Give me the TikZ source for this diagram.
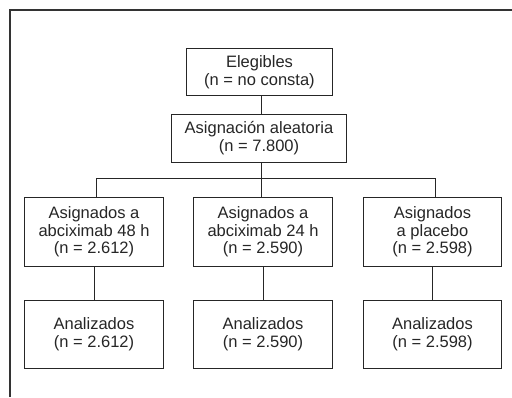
\documentclass[tikz,border=0pt]{standalone}
\usepackage{fontspec}
\setmainfont{Liberation Sans}
\begin{document}
\begin{tikzpicture}[x=1pt,y=-1pt,
  box/.style={draw=black!85, line width=0.8pt, align=center, inner sep=0pt,
    font=\fontsize{16.5}{17.8}\selectfont, text=black!85},
  link/.style={draw=black!85, line width=0.8pt}]
\useasboundingbox (0,0) rectangle (512,397);
\fill[white] (0,0) rectangle (512,397);
% frame (top and left edges visible)
\draw[black!80, line width=1.1pt] (10,397) -- (10,10) -- (512,10);
% nodes
\node[box, minimum width=145.6pt, minimum height=47.4pt] (e) at (259.5,72) {Elegibles\\(n = no consta)};
\node[box, minimum width=174.3pt, minimum height=48pt] (a) at (259,138.3) {Asignación aleatoria\\(n = 7.800)};
\node[box, minimum width=138.6pt, minimum height=68.3pt] (b1) at (94,231.8) {Asignados a\\abciximab 48 h\\(n = 2.612)};
\node[box, minimum width=138.4pt, minimum height=68.3pt] (b2) at (263,231.8) {Asignados a\\abciximab 24 h\\(n = 2.590)};
\node[box, minimum width=138.4pt, minimum height=68.3pt] (b3) at (432.5,231.8) {Asignados\\a placebo\\(n = 2.598)};
\node[box, minimum width=138.6pt, minimum height=68.3pt] (c1) at (94,334.2) {Analizados\\(n = 2.612)};
\node[box, minimum width=138.4pt, minimum height=68.3pt] (c2) at (263,334.2) {Analizados\\(n = 2.590)};
\node[box, minimum width=138.4pt, minimum height=68.3pt] (c3) at (432.5,334.2) {Analizados\\(n = 2.598)};
% connectors
\coordinate (bus) at (261,178.7);
\draw[link] (e.south -| bus) -- (a.north -| bus);
\draw[link] (a.south -| bus) -- (b2.north -| bus);
\draw[link] ([xshift=2.7pt]b1.north) |- (bus) -| ([xshift=3.2pt]b3.north);
\draw[link] (b1.south) -- (c1.north);
\draw[link] (b2.south) -- (c2.north);
\draw[link] (b3.south) -- (c3.north);
\end{tikzpicture}
\end{document}
